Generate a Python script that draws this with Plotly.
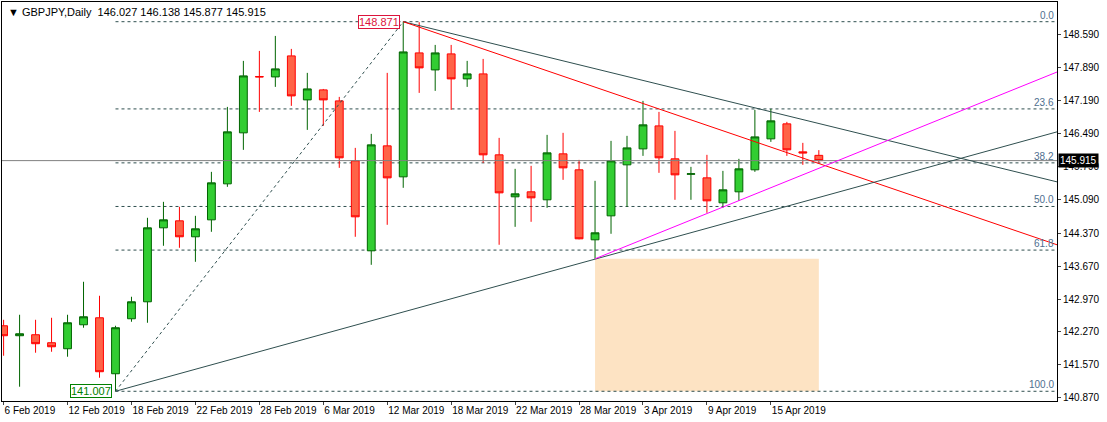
import plotly.graph_objects as go

# GBPJPY daily bars, 6 Feb 2019 .. 18 Apr 2019 (trading days only)
dates = ['6 Feb', '7 Feb', '8 Feb', '11 Feb', '12 Feb', '13 Feb', '14 Feb', '15 Feb',
         '18 Feb', '19 Feb', '20 Feb', '21 Feb', '22 Feb', '25 Feb', '26 Feb', '27 Feb',
         '28 Feb', '1 Mar', '4 Mar', '5 Mar', '6 Mar', '7 Mar', '8 Mar', '11 Mar',
         '12 Mar', '13 Mar', '14 Mar', '15 Mar', '18 Mar', '19 Mar', '20 Mar', '21 Mar',
         '22 Mar', '25 Mar', '26 Mar', '27 Mar', '28 Mar', '29 Mar', '1 Apr', '2 Apr',
         '3 Apr', '4 Apr', '5 Apr', '8 Apr', '9 Apr', '10 Apr', '11 Apr', '12 Apr',
         '15 Apr', '16 Apr', '17 Apr', '18 Apr']
opens = [142.401, 142.189, 142.210, 142.040, 141.912, 142.422, 142.571, 141.380,
         142.550, 142.911, 144.485, 144.634, 144.294, 144.655, 145.421, 146.506,
         147.705, 147.696, 148.143, 147.207, 147.420, 147.186, 145.910, 143.996,
         146.229, 145.570, 148.207, 147.845, 148.186, 147.654, 147.760, 146.038,
         145.145, 145.251, 145.081, 146.059, 145.719, 144.230, 144.740, 145.825,
         146.165, 146.654, 145.953, 145.625, 145.548, 145.017, 145.251, 145.719,
         146.378, 146.697, 146.101, 146.027]
highs = [142.528, 142.635, 142.528, 142.571, 142.635, 143.337, 143.039, 142.401,
         143.018, 144.698, 145.038, 144.932, 144.740, 145.676, 147.058, 148.037,
         148.249, 148.568, 148.292, 147.782, 147.440, 147.271, 146.186, 146.484,
         147.782, 148.871, 148.860, 148.377, 148.377, 148.037, 148.079, 146.399,
         145.740, 145.804, 146.463, 146.506, 145.931, 145.485, 146.335, 146.442,
         147.186, 146.952, 146.548, 145.782, 146.038, 145.697, 145.953, 146.995,
         147.016, 146.739, 146.293, 146.138]
lows = [141.763, 141.104, 141.827, 141.848, 141.742, 142.359, 141.295, 141.007,
        142.486, 142.465, 144.103, 144.060, 143.762, 144.400, 145.357, 146.144,
        146.952, 147.484, 147.080, 146.569, 146.654, 145.761, 144.294, 143.698,
        144.549, 145.336, 147.356, 147.399, 146.995, 147.484, 145.868, 144.124,
        144.506, 144.613, 144.911, 145.506, 144.240, 143.826, 144.358, 144.932,
        146.016, 145.655, 145.081, 145.081, 144.804, 144.911, 145.059, 145.676,
        146.314, 146.016, 145.825, 145.877]
closes = [142.189, 142.231, 142.019, 141.954, 142.465, 142.592, 141.423, 142.359,
          142.911, 144.485, 144.655, 144.294, 144.464, 145.442, 146.527, 147.718,
          147.696, 147.867, 147.292, 147.441, 147.207, 145.974, 144.719, 146.250,
          145.548, 148.228, 147.888, 148.207, 147.654, 147.760, 146.038, 145.229,
          145.208, 145.123, 146.080, 145.761, 144.251, 144.379, 145.910, 146.186,
          146.676, 145.974, 145.612, 145.634, 145.059, 145.293, 145.740, 146.420,
          146.761, 146.144, 146.080, 145.915]

swing_low_bar, swing_low = 7, 141.007
swing_high_bar, swing_high = 25, 148.871
fib_pcts = [0.0, 23.6, 38.2, 50.0, 61.8, 100.0]
last_price = 145.915
x_end = 65.9

# trendline endpoints (bar index, price)
down_gray = [(25, 148.871), (x_end, 145.463)]
down_red = [(25, 148.871), (x_end, 144.124)]
up_gray = [(7, 141.007), (x_end, 146.527)]
up_magenta = [(37, 143.826), (x_end, 147.80)]
zone = (37, 51, 141.007, 143.826)

yticks = [140.870, 141.570, 142.270, 142.970, 143.670, 144.370, 145.090, 145.790,
          146.490, 147.190, 147.890, 148.590]

idx = list(range(len(dates)))
fig = go.Figure()

fig.add_shape(type='rect', x0=zone[0], x1=zone[1], y0=zone[2], y1=zone[3],
              fillcolor='#FDE3C3', line_width=0, layer='below')

for p in fib_pcts:
    lvl = swing_high - (swing_high - swing_low) * p / 100
    fig.add_shape(type='line', x0=swing_low_bar, x1=x_end, y0=lvl, y1=lvl,
                  line=dict(color='#2F4F4F', width=1, dash='3px,3px'), layer='below')
    fig.add_annotation(x=x_end, y=lvl, text=f'{p:.1f}', showarrow=False,
                       xanchor='right', yanchor='bottom', yshift=-1, xshift=-1,
                       font=dict(size=10, color='#4F6F8F', family='Liberation Sans'))

fig.add_shape(type='line', x0=swing_low_bar, x1=swing_high_bar, y0=swing_low, y1=swing_high,
              line=dict(color='#2F4F4F', width=1, dash='dot'))
fig.add_shape(type='line', x0=-1, x1=x_end, y0=last_price, y1=last_price,
              line=dict(color='#808080', width=1))

for pts, col in [(down_gray, '#2F4F4F'), (down_red, '#FF0000'),
                 (up_gray, '#2F4F4F'), (up_magenta, '#FF00FF')]:
    fig.add_shape(type='line', x0=pts[0][0], y0=pts[0][1], x1=pts[1][0], y1=pts[1][1],
                  line=dict(color=col, width=1))

fig.add_trace(go.Candlestick(
    x=idx, open=opens, high=highs, low=lows, close=closes,
    increasing=dict(fillcolor='#32CD32', line=dict(color='#006400', width=1)),
    decreasing=dict(fillcolor='#FF6347', line=dict(color='#FF0000', width=1)),
    whiskerwidth=0, showlegend=False, hoverinfo='skip'))

fig.add_annotation(x=swing_high_bar - 0.2, y=swing_high, text='148.871', showarrow=False,
                   xanchor='right', yanchor='middle',
                   font=dict(size=11, color='#DC143C', family='Liberation Sans'),
                   bordercolor='#DC143C', borderwidth=1, borderpad=0, bgcolor='white')
fig.add_annotation(x=swing_low_bar - 0.2, y=swing_low, text='141.007', showarrow=False,
                   xanchor='right', yanchor='middle',
                   font=dict(size=11, color='#008000', family='Liberation Sans'),
                   bordercolor='#008000', borderwidth=1, borderpad=0, bgcolor='white')
fig.add_annotation(x=1.0, xref='paper', y=last_price, text='145.915', showarrow=False,
                   xanchor='left', yanchor='middle', xshift=1,
                   font=dict(size=10, color='white', family='Liberation Sans'),
                   bgcolor='black', borderpad=1)
fig.add_annotation(x=0, xref='paper', y=1, yref='paper',
                   text='▼ GBPJPY,Daily  146.027 146.138 145.877 145.915',
                   showarrow=False, xanchor='left', yanchor='top', xshift=4, yshift=-2,
                   font=dict(size=11, color='black', family='Liberation Sans'))

tick_idx = idx[::4]
fig.update_layout(
    width=1107, height=422, margin=dict(l=2, r=50, t=2, b=21, autoexpand=False),
    paper_bgcolor='white', plot_bgcolor='white',
    xaxis=dict(range=[-0.1, x_end], tickvals=tick_idx,
               ticktext=[dates[i] + ' 2019' for i in tick_idx], tickangle=0,
               ticklabelposition='outside right', ticks='outside', ticklen=3,
               showgrid=False, zeroline=False, rangeslider=dict(visible=False),
               showline=True, mirror=True, linecolor='black', automargin=False,
               tickfont=dict(size=10, color='black', family='Liberation Sans')),
    yaxis=dict(range=[140.80, 149.29], side='right', tickvals=yticks,
               ticktext=[f'{v:.3f}' for v in yticks], ticks='outside', ticklen=3,
               showgrid=False, zeroline=False, showline=True, mirror=True,
               linecolor='black', automargin=False,
               tickfont=dict(size=10, color='black', family='Liberation Sans')),
)

fig.write_html('out.html', config={'displayModeBar': False},
               post_script="document.body.style.margin='0';")
